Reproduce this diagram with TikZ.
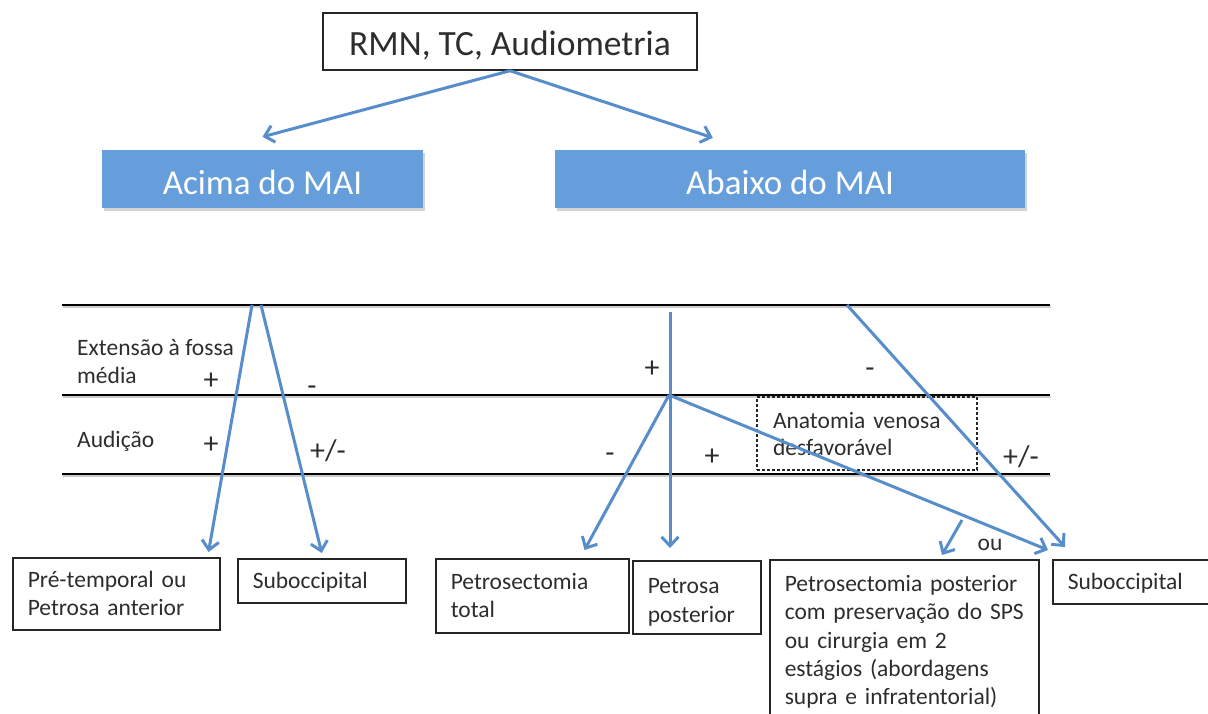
\documentclass[tikz,border=0pt]{standalone}
\usepackage{fontspec}
\setmainfont{Carlito}
\usetikzlibrary{arrows.meta,shadows,calc}
\definecolor{boxblue}{RGB}{101,158,218}
\definecolor{linkblue}{RGB}{88,141,204}
\definecolor{inkgray}{RGB}{45,45,45}
\begin{document}
\begin{tikzpicture}[x=1pt,y=-1pt,
  link/.style={draw=linkblue, line width=3pt, -{Straight Barb[length=9pt,width=17pt,line width=3pt]}},
  topbox/.style={draw=black!85, line width=1.5pt, minimum width=374pt, minimum height=57pt, font=\fontsize{35.5}{42}\selectfont, text=inkgray, text height=27pt, text depth=0pt},
  bluebox/.style={fill=boxblue, minimum height=58pt, text=white, font=\fontsize{35}{42}\selectfont, text height=30.5pt, text depth=0pt, drop shadow={shadow xshift=2pt, shadow yshift=-3pt, opacity=0.35}},
  leaf/.style={draw=black!85, line width=1.5pt, anchor=north west, align=left, inner xsep=15pt, font=\fontsize{23.5}{28.3}\selectfont, text=inkgray},
  oneline/.style={text depth=0pt},
  lbl/.style={font=\fontsize{23.5}{28}\selectfont, text=inkgray, inner sep=0pt},
  sign/.style={font=\fontsize{30}{34}\selectfont, text=inkgray, inner sep=0pt, anchor=base},
  rulel/.style={draw=black, line width=2.5pt},
  ruleshadow/.style={draw=black!40, line width=2.5pt, opacity=0.5},
]
\useasboundingbox (0,0) rectangle (1208,713);
\clip (0,0) rectangle (1208,713);

% top level
\node[topbox] (top) at (510,41.5) {RMN, TC, Audiometria};
\node[bluebox, minimum width=321pt] (acima) at (262.5,179) {Acima do MAI};
\node[bluebox, minimum width=470pt] (abaixo) at (790,179) {Abaixo do MAI};
\draw[link] (top.south) -- ([yshift=13pt]acima.north);
\draw[link] (top.south) -- ($(abaixo.north west)+(158,-12)$);

% horizontal rules
\coordinate (r1w) at (62,305); \coordinate (r1e) at (1050,305);
\coordinate (r2w) at (62,395); \coordinate (r2e) at (1050,395);
\coordinate (r3w) at (62,474); \coordinate (r3e) at (1050,474);
\foreach \r in {1,2,3}{
  \draw[ruleshadow] ([shift={(1,2)}]r\r w) -- ([shift={(1,2)}]r\r e);
  \draw[rulel] (r\r w) -- (r\r e);
}

% row labels
\node[lbl, anchor=base west] (ext) at (77,355) {\begin{tabular}[t]{@{}l@{}}Extensão à fossa\\média\end{tabular}};
\node[lbl, anchor=base west] (aud) at (77,447) {Audição};

% signs
\node[sign] (s1) at (211,389) {+};
\node[sign] (s2) at (312,395) {-};
\node[sign] (s3) at (211,453) {+};
\node[sign] (s4) at (328,460) {+/-};
\node[sign] (s5) at (652,377) {+};
\node[sign] (s6) at (870,377) {-};
\node[sign] (s7) at (610,462) {-};
\node[sign] (s8) at (712,465) {+};
\node[sign] (s9) at (1021,466) {+/-};

% dashed box
\node[draw=black!85, line width=1.3pt, dash pattern=on 3pt off 2pt, minimum width=220pt, minimum height=73pt, align=left, text width=188pt, inner xsep=16pt, font=\fontsize{23.5}{27}\selectfont, text=inkgray] (ven) at (867,433.5) {Anatomia venosa\\desfavorável};

% leaves
\node[leaf, text width=177pt, minimum height=72pt] (pre) at (12,557) {Pré-temporal ou\\Petrosa anterior};
\node[leaf, oneline, text width=138pt, minimum height=44pt] (sub1) at (237,558) {Suboccipital};
\node[leaf, text width=163pt, minimum height=74pt] (pettot) at (435,558) {Petrosectomia\\total};
\node[leaf, text width=98pt, minimum height=73pt] (petpost) at (632,560) {\rule{0pt}{25pt}Petrosa\\posterior};
\node[leaf, text width=239pt, inner ysep=15.5pt] (big) at (769,559) {\mbox{Petrosectomia posterior}\\\mbox{com preservação do SPS}\\\mbox{ou cirurgia em 2}\\\mbox{estágios (abordagens}\\\mbox{supra e infratentorial)}};
\node[leaf, oneline, text width=200pt, minimum height=44pt] (sub2) at (1052,559) {Suboccipital};
\node[lbl, anchor=base] (ou) at (990,550) {ou};

% connectors
\coordinate (va) at (252,305);
\coordinate (vb) at (261,305);
\coordinate (vt) at (670,312);
\coordinate (hub) at (669,395);
\coordinate (dg) at (847,305);
\coordinate (bs) at (962,520);
\draw[link] (va) -- ($(pre.north east)+(-12,-5)$);
\draw[link] (vb) -- ($(sub1.north)+(0,-5)$);
\draw[link] (vt) -- ($(petpost.north west)+(38,-12)$);
\draw[link] (hub) -- ($(pettot.north east)+(-45,-8)$);
\draw[link] (hub) -- ($(sub2.north west)+(-4,-9)$);
\draw[link] (bs) -- ($(big.north west)+(173,-4)$);
\draw[link] (dg) -- ($(sub2.north west)+(13,-12)$);
\end{tikzpicture}
\end{document}
